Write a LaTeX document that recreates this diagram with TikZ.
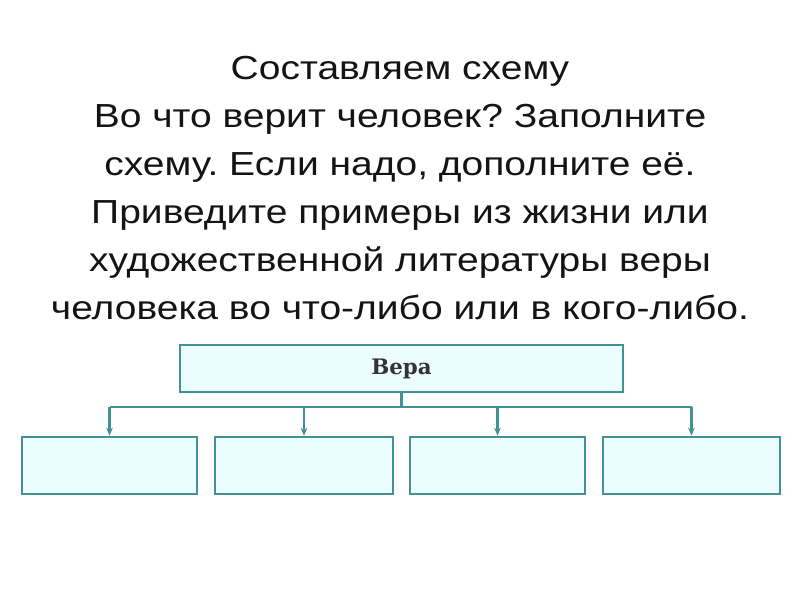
\documentclass[tikz,border=0pt]{standalone}
\usepackage{fontspec}
\setmainfont{Liberation Sans}[FakeStretch=1.17]
\newfontfamily\schoolfont{DejaVu Serif}
\usetikzlibrary{arrows.meta}
\definecolor{edgeteal}{RGB}{66,145,152}
\definecolor{boxfill}{RGB}{236,253,255}
\definecolor{txt}{RGB}{20,20,20}
\tikzset{
  titleline/.style={anchor=base, font=\fontsize{25}{36}\selectfont, text=txt, inner sep=0pt},
  schemebox/.style={draw=edgeteal, fill=boxfill, line width=2pt, inner sep=0pt, minimum height=42.75pt},
  link/.style={draw=edgeteal, line width=2pt},
  arrowlink/.style={link, -{Stealth[length=6pt,width=5pt]}},
}
\frenchspacing
\begin{document}
\begin{tikzpicture}[x=0.75pt,y=-0.75pt]
\useasboundingbox (0,0) rectangle (800,600);
\node[titleline] (t1) at (400,79) {Составляем схему};
\node[titleline] (t2) at (400,127) {Во что верит человек? Заполните};
\node[titleline] (t3) at (400,175) {схему. Если надо, дополните её.};
\node[titleline] (t4) at (400,223) {Приведите примеры из жизни или};
\node[titleline] (t5) at (400,271) {художественной литературы веры};
\node[titleline] (t6) at (400,319) {человека во что-либо или в кого-либо.};

\node[schemebox, minimum width=332.25pt, minimum height=35.25pt,
      font=\schoolfont\bfseries\fontsize{16}{18}\selectfont, text=black!80] (top) at (401.5,368.5) {Вера};
\node[schemebox, minimum width=131.25pt] (b1) at (109.5,465.5) {};
\node[schemebox, minimum width=133.5pt] (b2) at (304,465.5) {};
\node[schemebox, minimum width=131.25pt] (b3) at (497.5,465.5) {};
\node[schemebox, minimum width=132.75pt] (b4) at (691.5,465.5) {};

\coordinate (j) at (top.south |- 0,407);
\draw[link] (top.south) -- (j);
\draw[link] (b1.north |- j) -- (b4.north |- j);
\draw[arrowlink] (b1.north |- j) -- (b1.north);
\draw[arrowlink] (b2.north |- j) -- (b2.north);
\draw[arrowlink] (b3.north |- j) -- (b3.north);
\draw[arrowlink] (b4.north |- j) -- (b4.north);
\end{tikzpicture}
\end{document}
